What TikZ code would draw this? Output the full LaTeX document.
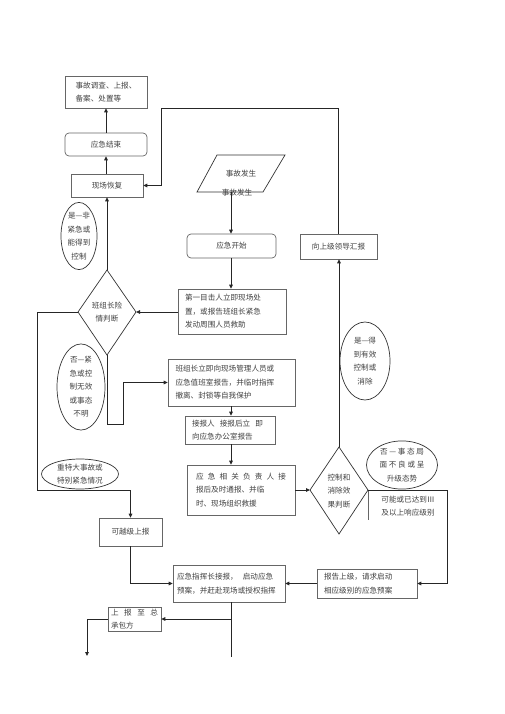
\documentclass[tikz,border=0pt]{standalone}
\usepackage{fontspec}
\setmainfont{Noto Sans CJK SC}
\usetikzlibrary{arrows.meta,shapes.geometric}
\begin{document}
\begin{tikzpicture}[x=1pt,y=-1pt,
  every node/.style={text=black!75, font=\fontsize{7.6}{13.5}\selectfont, inner sep=0pt},
  box/.style={draw=black!60, line width=0.7pt, align=left},
  rbox/.style={box, rounded corners=4pt, align=center},
  oval/.style={ellipse, draw=black!80, line width=0.7pt, align=center},
  diam/.style={draw=black!80, line width=0.7pt},
  conn/.style={draw=black!85, line width=0.9pt},
  arr/.style={conn, -{Triangle[length=4pt,width=3.6pt]}}]
\useasboundingbox (0,0) rectangle (505,714);

% boxes
\node[box, minimum width=82pt, minimum height=32pt] (A) at (106,92) {事故调查、上报、\\备案、处置等};
\node[rbox, minimum width=82pt, minimum height=23pt] (end) at (106,144.5) {应急结束};
\node[box, align=center, minimum width=72pt, minimum height=23pt] (rec) at (107,185.5) {现场恢复};
\draw[diam] (217,155) -- (285,155) -- (263,192) -- (197,192) -- cycle;
\node (fs) at (241,173.5) {事故发生};
\node (fs2) at (237,193) {事故发生};
\coordinate (fsb) at (231,192);
\node[rbox, minimum width=89pt, minimum height=24pt] (start) at (231.5,246) {应急开始};
\node[box, align=center, minimum width=77pt, minimum height=25pt] (rep) at (338.5,246.5) {向上级领导汇报};
\node[box, minimum width=108pt, minimum height=45pt, text width=94pt] (first) at (232,311.5) {第一目击人立即现场处\\置，或报告班组长紧急\\发动周围人员救助};

% diamond 1
\coordinate (d1t) at (107,270);
\coordinate (d1l) at (78,312);
\coordinate (d1r) at (136,312);
\coordinate (d1b) at (107,355);
\draw[diam] (d1t) -- (d1r) -- (d1b) -- (d1l) -- cycle;
\node[align=center] (d1) at (107,312) {班组长险\\情判断};

\node[oval, minimum width=36pt, minimum height=67pt] (e1) at (79,236) {是—非\\紧急或\\能得到\\控制};
\node[oval, minimum width=48pt, minimum height=79pt] (e2) at (81,387) {否—紧\\急或控\\制无效\\或事态\\不明};
\node[oval, minimum width=77pt, minimum height=30pt, font=\fontsize{7.6}{12.5}\selectfont] (e3) at (80,474) {重特大事故或\\特别紧急情况};

\node[box, minimum width=127pt, minimum height=47pt, text width=112pt] (bz) at (231.5,382.5) {班组长立即向现场管理人员或\\应急值班室报告，并临时指挥\\撤离、封锁等自我保护};
\node[box, minimum width=90pt, minimum height=28pt, text width=76pt] (jb) at (230,430) {接报人\ \ 接报后立\ \ 即\\向应急办公室报告};
\node[box, minimum width=108pt, minimum height=50pt, text width=90pt] (yj) at (241,490) {应\hfill 急\hfill 相\hfill 关\hfill 负\hfill 责\hfill 人\hfill 接\\报后及时通报、并临\\时、现场组织救援};

% diamond 2
\coordinate (d2t) at (339,447);
\coordinate (d2l) at (310,490);
\coordinate (d2r) at (368,490);
\coordinate (d2b) at (339,534);
\draw[diam] (d2t) -- (d2r) -- (d2b) -- (d2l) -- cycle;
\node[align=center] (d2) at (339,491) {控制和\\消除效\\果判断};

\node[oval, minimum width=50pt, minimum height=78pt] (e4) at (365,361) {是—得\\到有效\\控制或\\消除};
\node[oval, minimum width=71pt, minimum height=40pt] (e5) at (402,465) {否\ —\ 事\ 态\ 局\\面\ 不\ 良\ 或\ 呈\\升级态势};
\node[align=center] (lvl) at (408,506) {可能或已达到Ⅲ\\及以上响应级别};
\coordinate (lvr) at (447,490);
\coordinate (lvl1) at (368,520);
\draw[box] (d2r) -- (lvl1);

\node[box, align=center, minimum width=63pt, minimum height=28pt] (yue) at (130.5,532) {可越级上报};
\node[box, minimum width=112pt, minimum height=37pt, text width=104pt] (zh) at (229,583.5) {应急指挥长接报，\ \ 启动应急\\预案，并赶赴现场或授权指挥};
\node[box, minimum width=100pt, minimum height=29pt, text width=86pt] (bg) at (367,583.5) {报告上级，请求启动\\相应级别的应急预案};
\node[box, minimum width=53pt, minimum height=24pt, text width=47pt] (zcb) at (134.5,619) {上\hfill 报\hfill 至\hfill 总\\承包方};

% connectors
\draw[arr] (end.north) -- (A.south);
\draw[arr] (rec.north -| end.north) -- (end.south);
\draw[arr] (rep.north) |- (161,108) |- (rec.east);
\draw[arr] (fsb) -- (start.north -| fsb);
\draw[arr] (start.south -| fsb) -- (first.north -| fsb);
\draw[arr] (first.west |- d1r) -- (d1r);
\draw[arr] (d1t) -- (rec.south -| d1t);
\draw[arr] (d1l) -- (37,312) -- (37,490) -| (yue.north);
\draw[arr] (d1b) -- (107,424) -- (123,424) |- (bz.west);
\draw[arr] (bz.south -| fsb) -- (jb.north -| fsb);
\draw[arr] (jb.south -| fsb) -- (yj.north -| fsb);
\draw[arr] (yj.east |- d2l) -- (d2l);
\draw[arr] (d2t) -- (rep.south -| d2t);
\draw[arr] (d2r) -- (lvr) |- (bg.east);
\draw[arr] (bg.west) -- (zh.east |- bg.west);
\draw[arr] (yue.south) |- (zh.west);
\coordinate (zend) at (231,657);
\draw[conn] (zh.south -| zend) -- (zend);
\draw[arr] (231,619) -- (zcb.east);
\coordinate (zcbend) at (87,656);
\draw[arr] (zcb.west) -| (zcbend);
\end{tikzpicture}
\end{document}
